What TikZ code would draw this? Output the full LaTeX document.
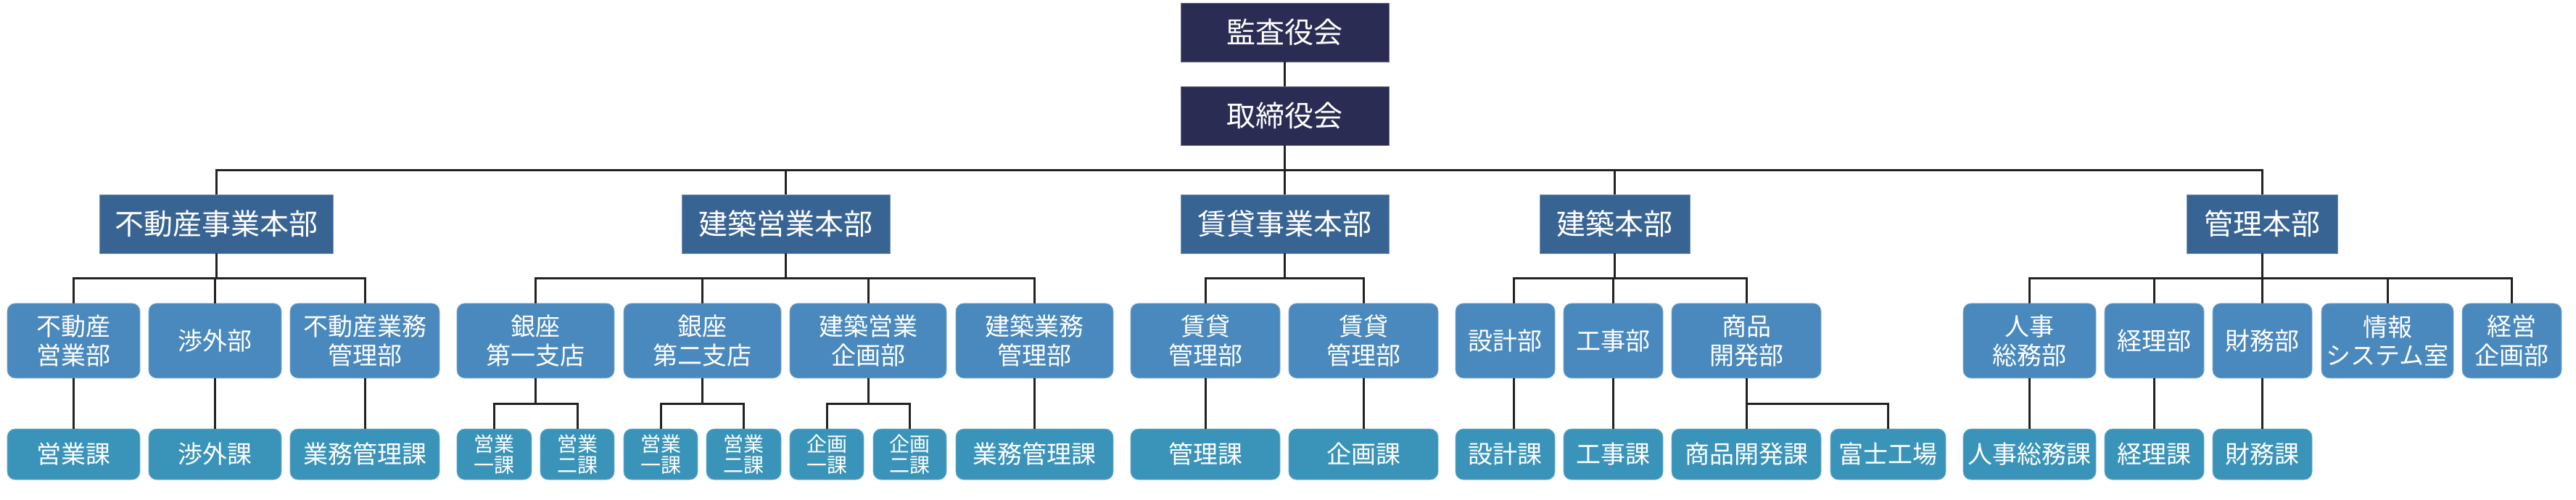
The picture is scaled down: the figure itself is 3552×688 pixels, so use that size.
\documentclass[tikz,border=0pt]{standalone}
\usepackage{fontspec}
\newfontfamily\jpfont{Noto Sans CJK JP}
\definecolor{cTop}{HTML}{2B2C54}
\definecolor{cHead}{HTML}{386494}
\definecolor{cDept}{HTML}{4A89BD}
\definecolor{cSect}{HTML}{3A94B9}
\definecolor{cLine}{HTML}{222222}
\newcommand\orgbranch[4]{%
  \draw[conn] (#3.north) -- (#3.north|-#2) -- (#4.north|-#2) -- (#4.north);
  \draw[conn] (#1.south) -- (#1.south|-#2);
}
\begin{document}
\begin{tikzpicture}[x=1pt,y=-1pt,
  box/.style={inner sep=0pt, outer sep=0pt, text=white, align=center},
  topbox/.style={box, fill=cTop, draw=cTop!70!white, line width=0.8pt, minimum height=81pt, font=\jpfont\fontsize{40}{46}\selectfont},
  headbox/.style={box, fill=cHead, draw=cHead!70!white, line width=0.8pt, minimum height=81pt, font=\jpfont\fontsize{40}{46}\selectfont},
  deptbox/.style={box, fill=cDept, draw=cDept!70!white, line width=0.8pt, rounded corners=11pt, minimum height=103pt, font=\jpfont\fontsize{34}{39.5}\selectfont},
  sectbox/.style={box, fill=cSect, draw=cSect!70!white, line width=0.8pt, rounded corners=11pt, minimum height=70pt, font=\jpfont\fontsize{34}{39.5}\selectfont},
  smallsect/.style={sectbox, font=\jpfont\fontsize{28}{29}\selectfont},
  conn/.style={draw=cLine, line width=3pt, line join=miter}
]
\fill[white] (0,0) rectangle (3552,688);
\useasboundingbox (0,0) rectangle (3552,688);

\coordinate (b0) at (0,234);
\coordinate (b1) at (0,383);
\coordinate (b2) at (0,556);

% top
\node[topbox, minimum width=287pt] (kansa) at (1771.5,44.5) {監査役会};
\node[topbox, minimum width=287pt] (tori) at (1771.5,159.5) {取締役会};

% heads
\node[headbox, minimum width=322pt] (h1) at (298,308.5) {不動産事業本部};
\node[headbox, minimum width=287pt] (h2) at (1083.5,308.5) {建築営業本部};
\node[headbox, minimum width=287pt] (h3) at (1771.5,308.5) {賃貸事業本部};
\node[headbox, minimum width=207pt] (h4) at (2226.5,308.5) {建築本部};
\node[headbox, minimum width=208pt] (h5) at (3119,308.5) {管理本部};

% departments
\node[deptbox, minimum width=183pt] (d1) at (101.5,469.5) {不動産\\営業部};
\node[deptbox, minimum width=183pt] (d2) at (296.5,469.5) {渉外部};
\node[deptbox, minimum width=206pt] (d3) at (503,469.5) {不動産業務\\管理部};
\node[deptbox, minimum width=217pt] (d4) at (738.5,469.5) {銀座\\第一支店};
\node[deptbox, minimum width=217pt] (d5) at (968.5,469.5) {銀座\\第二支店};
\node[deptbox, minimum width=216pt] (d6) at (1197,469.5) {建築営業\\企画部};
\node[deptbox, minimum width=217pt] (d7) at (1426.5,469.5) {建築業務\\管理部};
\node[deptbox, minimum width=206pt] (d8) at (1662,469.5) {賃貸\\管理部};
\node[deptbox, minimum width=206pt] (d9) at (1880,469.5) {賃貸\\管理部};
\node[deptbox, minimum width=137pt] (d10) at (2075.5,469.5) {設計部};
\node[deptbox, minimum width=137pt] (d11) at (2224.5,469.5) {工事部};
\node[deptbox, minimum width=206pt] (d12) at (2408,469.5) {商品\\開発部};
\node[deptbox, minimum width=183pt] (d13) at (2798.5,469.5) {人事\\総務部};
\node[deptbox, minimum width=137pt] (d14) at (2970.5,469.5) {経理部};
\node[deptbox, minimum width=137pt] (d15) at (3119.5,469.5) {財務部};
\node[deptbox, minimum width=182pt] (d16) at (3292,469.5) {情報\\システム室};
\node[deptbox, minimum width=137pt] (d17) at (3463.5,469.5) {経営\\企画部};

% sections
\node[sectbox, minimum width=183pt] (s1) at (101.5,626) {営業課};
\node[sectbox, minimum width=183pt] (s2) at (296.5,626) {渉外課};
\node[sectbox, minimum width=206pt] (s3) at (503,626) {業務管理課};
\node[smallsect, minimum width=103pt] (s4a) at (681.5,626) {営業\\一課};
\node[smallsect, minimum width=102pt] (s4b) at (796,626) {営業\\二課};
\node[smallsect, minimum width=102pt] (s5a) at (911,626) {営業\\一課};
\node[smallsect, minimum width=103pt] (s5b) at (1025.5,626) {営業\\二課};
\node[smallsect, minimum width=102pt] (s6a) at (1140,626) {企画\\一課};
\node[smallsect, minimum width=101pt] (s6b) at (1254.5,626) {企画\\二課};
\node[sectbox, minimum width=217pt] (s7) at (1426.5,626) {業務管理課};
\node[sectbox, minimum width=206pt] (s8) at (1662,626) {管理課};
\node[sectbox, minimum width=206pt] (s9) at (1880,626) {企画課};
\node[sectbox, minimum width=137pt] (s10) at (2075.5,626) {設計課};
\node[sectbox, minimum width=137pt] (s11) at (2224.5,626) {工事課};
\node[sectbox, minimum width=206pt] (s12a) at (2408,626) {商品開発課};
\node[sectbox, minimum width=159pt] (s12b) at (2603.5,626) {富士工場};
\node[sectbox, minimum width=183pt] (s13) at (2798.5,626) {人事総務課};
\node[sectbox, minimum width=137pt] (s14) at (2970.5,626) {経理課};
\node[sectbox, minimum width=137pt] (s15) at (3119.5,626) {財務課};

% connectors: top
\draw[conn] (kansa.south) -- (tori.north);
\orgbranch{tori}{b0}{h1}{h5}
\foreach \n in {h2,h3,h4} \draw[conn] (\n.north) -- (\n.north|-b0);

% heads to departments
\orgbranch{h1}{b1}{d1}{d3}
\draw[conn] (d2.north) -- (d2.north|-b1);
\orgbranch{h2}{b1}{d4}{d7}
\foreach \n in {d5,d6} \draw[conn] (\n.north) -- (\n.north|-b1);
\orgbranch{h3}{b1}{d8}{d9}
\draw[conn] ([xshift=12pt]d10.north) -- ([xshift=12pt]d10.north|-b1) -- (d12.north|-b1) -- (d12.north);
\draw[conn] (h4.south) -- (h4.south|-b1);
\draw[conn] (d11.north) -- (d11.north|-b1);
\orgbranch{h5}{b1}{d13}{d17}
\foreach \n in {d14,d15,d16} \draw[conn] (\n.north) -- (\n.north|-b1);

% departments to sections
\draw[conn] (d1.south) -- (s1.north);
\draw[conn] (d2.south) -- (s2.north);
\draw[conn] (d3.south) -- (s3.north);
\orgbranch{d4}{b2}{s4a}{s4b}
\orgbranch{d5}{b2}{s5a}{s5b}
\orgbranch{d6}{b2}{s6a}{s6b}
\draw[conn] (d7.south) -- (s7.north);
\draw[conn] (d8.south) -- (s8.north);
\draw[conn] (d9.south) -- (s9.north);
\draw[conn] ([xshift=12pt]d10.south) -- ([xshift=12pt]s10.north);
\draw[conn] (d11.south) -- (s11.north);
\orgbranch{d12}{b2}{s12a}{s12b}
\draw[conn] (d13.south) -- (s13.north);
\draw[conn] (d14.south) -- (s14.north);
\draw[conn] (d15.south) -- (s15.north);
\end{tikzpicture}
\end{document}
